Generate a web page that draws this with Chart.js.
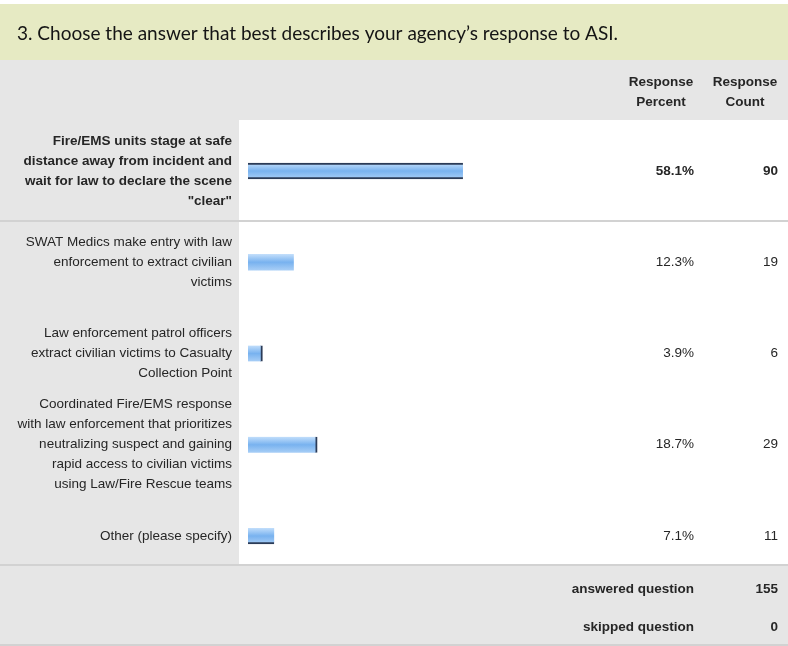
<!DOCTYPE html>
<html lang="en">
<head>
<meta charset="UTF-8">
<title>Agency response to ASI</title>
<script src="https://cdn.jsdelivr.net/npm/chart.js"></script>
<style>
    body {
        margin: 0;
        padding: 0;
        background-color: #fff;
    }

    .survey-wrap {
        width: 788px;
        height: 646px;
    }
</style>
</head>
<body>
<div class="survey-wrap">
    <canvas id="surveyChart" width="788" height="646"></canvas>
</div>

<script>
    // Question and answers
    const questionTitle = '3. Choose the answer that best describes your agency\u2019s response to ASI.';
    const answerLabels = [
        ['Fire/EMS units stage at safe', 'distance away from incident and', 'wait for law to declare the scene', '"clear"'],
        ['SWAT Medics make entry with law', 'enforcement to extract civilian', 'victims'],
        ['Law enforcement patrol officers', 'extract civilian victims to Casualty', 'Collection Point'],
        ['Coordinated Fire/EMS response', 'with law enforcement that prioritizes', 'neutralizing suspect and gaining', 'rapid access to civilian victims', 'using Law/Fire Rescue teams'],
        ['Other (please specify)']
    ];
    const responsePercent = [58.1, 12.3, 3.9, 18.7, 7.1];
    const responseCount = [90, 19, 6, 29, 11];
    const columnHeaders = [['Response', 'Percent'], ['Response', 'Count']];
    const summaryLabels = ['answered question', 'skipped question'];
    const summaryCounts = [155, 0];

    // dark edges on the bar images
    const barEdges = [
        { top: 2, right: 0, bottom: 2, left: 0 },
        { top: 0, right: 0, bottom: 0, left: 0 },
        { top: 0, right: 2, bottom: 0, left: 0 },
        { top: 0, right: 2, bottom: 0, left: 0 },
        { top: 0, right: 0, bottom: 2, left: 0 }
    ];

    const FONT = '"Liberation Sans", Arial, sans-serif';
    const TEXT = '#262626';

    function barGradient(ctx) {
        const chart = ctx.chart;
        const y = chart.scales.y;
        if (!y || !chart.chartArea) return '#8cc0f3';
        const mid = y.getPixelForValue(ctx.dataIndex);
        const g = chart.ctx.createLinearGradient(0, mid - 8, 0, mid + 8);
        g.addColorStop(0, '#c2defb');
        g.addColorStop(0.5, '#78b2ef');
        g.addColorStop(1, '#a8cef6');
        return g;
    }

    // table backgrounds, title, column headers, values and summary rows
    const surveyTable = {
        id: 'surveyTable',
        beforeDraw(chart) {
            const c = chart.ctx;
            const w = chart.width;
            c.save();
            c.fillStyle = '#fff';
            c.fillRect(0, 0, w, chart.height);

            // title band
            c.fillStyle = '#e6eac3';
            c.fillRect(0, 4, w, 56);
            // header row
            c.fillStyle = '#e6e6e6';
            c.fillRect(0, 60, w, 60);
            // answer label column
            c.fillRect(0, 120, 239, 446);
            // summary rows
            c.fillRect(0, 566, w, 78);

            c.fillStyle = '#d2d2d2';
            c.fillRect(0, 220, w, 2);
            c.fillRect(0, 564, w, 2);
            c.fillRect(0, 644, w, 2);

            c.fillStyle = '#151515';
            c.font = '19px Lato, "Open Sans", sans-serif';
            c.textBaseline = 'middle';
            c.textAlign = 'left';
            c.fillText(questionTitle, 17, 34);

            c.fillStyle = TEXT;
            c.font = 'bold 13.5px ' + FONT;
            c.textAlign = 'center';
            const headerX = [661, 745];
            columnHeaders.forEach((lines, i) => {
                lines.forEach((line, j) => c.fillText(line, headerX[i], 82 + j * 20));
            });
            c.restore();
        },
        afterDatasetsDraw(chart) {
            const c = chart.ctx;
            const meta = chart.getDatasetMeta(0);
            c.save();
            c.fillStyle = TEXT;
            c.textBaseline = 'middle';
            c.textAlign = 'right';
            meta.data.forEach((bar, i) => {
                c.font = (i === 0 ? 'bold ' : '') + '13.5px ' + FONT;
                c.fillText(responsePercent[i].toFixed(1) + '%', 694, bar.y);
                c.fillText(String(responseCount[i]), 778, bar.y);
            });
            c.font = 'bold 13.5px ' + FONT;
            summaryLabels.forEach((label, i) => {
                const y = 589 + i * 38;
                c.fillText(label, 694, y);
                c.fillText(String(summaryCounts[i]), 778, y);
            });
            c.restore();
        }
    };

    new Chart(document.getElementById('surveyChart'), {
        type: 'bar',
        data: {
            labels: answerLabels,
            datasets: [{
                data: responsePercent,
                backgroundColor: barGradient,
                borderColor: '#2b3b57',
                borderWidth: (ctx) => barEdges[ctx.dataIndex],
                borderSkipped: false,
                barThickness: 16
            }]
        },
        options: {
            indexAxis: 'y',
            responsive: false,
            animation: false,
            devicePixelRatio: 1,
            layout: {
                padding: { left: 12, right: 170, top: 125.4, bottom: 64.4 }
            },
            plugins: {
                legend: { display: false },
                tooltip: { enabled: false }
            },
            scales: {
                x: {
                    display: false,
                    min: 0,
                    max: 100
                },
                y: {
                    grid: { display: false, drawTicks: false },
                    border: { display: false },
                    afterFit(axis) {
                        axis.width = 236;
                    },
                    ticks: {
                        autoSkip: false,
                        padding: 16,
                        color: TEXT,
                        font: (ctx) => ({
                            family: FONT,
                            size: 13.5,
                            weight: ctx.index === 0 ? 'bold' : 'normal',
                            lineHeight: '20px'
                        })
                    }
                }
            }
        },
        plugins: [surveyTable]
    });
</script>
</body>
</html>
